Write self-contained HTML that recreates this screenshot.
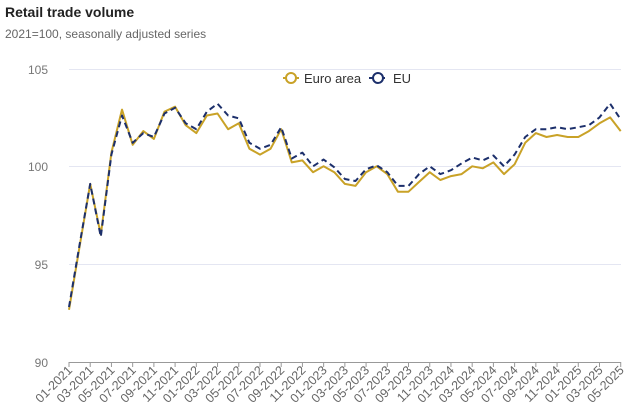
<!DOCTYPE html>
<html><head><meta charset="utf-8"><style>
html,body{margin:0;padding:0;background:#fff;width:626px;height:409px;overflow:hidden;font-family:"Liberation Sans",Arial,sans-serif}
</style></head><body>
<svg id="c" width="626" height="409" viewBox="0 0 626 409" xmlns="http://www.w3.org/2000/svg" font-family="Liberation Sans, Arial, sans-serif">
<text x="5" y="17" font-size="14" font-weight="bold" fill="#222">Retail trade volume</text>
<text x="5" y="38" font-size="12" fill="#666">2021=100, seasonally adjusted series</text>
<g stroke="#e4e6f2" stroke-width="1">
<line x1="69" x2="621" y1="69.5" y2="69.5"/>
<line x1="69" x2="621" y1="166.5" y2="166.5"/>
<line x1="69" x2="621" y1="264.5" y2="264.5"/>
</g>
<g font-size="12" fill="#777" text-anchor="end">
<text x="48" y="74">105</text><text x="48" y="171">100</text><text x="48" y="269">95</text><text x="48" y="367">90</text>
</g>
<line x1="69" x2="621" y1="362.5" y2="362.5" stroke="#999" stroke-width="1"/>
<g id="ticks"></g>
<polyline id="ea" fill="none" stroke="#c9a227" stroke-width="2" stroke-linejoin="round"/>
<polyline id="eu" fill="none" stroke="#1c2f6b" stroke-width="2" stroke-dasharray="6,4" stroke-linejoin="round"/>
<g>
<line x1="283" x2="299" y1="78" y2="78" stroke="#c9a227" stroke-width="2"/>
<circle cx="291" cy="78" r="5" fill="#fff" stroke="#c9a227" stroke-width="2"/>
<text x="304" y="83" font-size="13" fill="#333">Euro area</text>
<line x1="369" x2="387" y1="78" y2="78" stroke="#1c2f6b" stroke-width="2" stroke-dasharray="4,2"/>
<circle cx="378" cy="78" r="5" fill="#fff" stroke="#1c2f6b" stroke-width="2"/>
<text x="393" y="83" font-size="13" fill="#333">EU</text>
</g>
</svg>
<script>
var ea=[92.66,95.9,99.1,96.5,100.7,102.9,101.1,101.8,101.4,102.8,103.05,102.1,101.7,102.6,102.7,101.9,102.2,100.9,100.6,100.9,101.9,100.2,100.3,99.7,100.0,99.7,99.1,99.0,99.7,100.0,99.6,98.7,98.7,99.2,99.7,99.3,99.5,99.6,100.0,99.9,100.2,99.6,100.1,101.2,101.7,101.5,101.6,101.5,101.5,101.8,102.2,102.5,101.8];
var eu=[92.8,96.0,99.1,96.4,100.6,102.6,101.2,101.7,101.5,102.7,103.0,102.2,101.9,102.8,103.2,102.6,102.45,101.2,100.9,101.1,102.0,100.4,100.7,100.0,100.35,99.95,99.35,99.25,99.85,100.05,99.7,99.0,99.0,99.6,100.0,99.6,99.8,100.15,100.45,100.3,100.55,100.0,100.6,101.5,101.9,101.9,102.0,101.9,102.0,102.1,102.5,103.2,102.4];
function X(i){return 69+i*10.61}function Y(v){return 166.3-(v-100)*19.55}
function pts(a){return a.map(function(v,i){return X(i).toFixed(1)+","+Y(v).toFixed(1)}).join(" ")}
document.getElementById('ea').setAttribute('points',pts(ea));
document.getElementById('eu').setAttribute('points',pts(eu));
var g=document.getElementById('ticks'),s='';
for(var i=0;i<=52;i+=2){var x=X(i),m=((i%12)+1),y=2021+Math.floor(i/12);var lab=(m<10?'0':'')+m+'-'+y;
s+='<line x1="'+x+'" x2="'+x+'" y1="362" y2="367" stroke="#999"/>';
s+='<text transform="translate('+(x+4)+',371) rotate(-45)" text-anchor="end" font-size="12.5" fill="#666">'+lab+'</text>';}
g.innerHTML=s;
</script>
</body></html>
